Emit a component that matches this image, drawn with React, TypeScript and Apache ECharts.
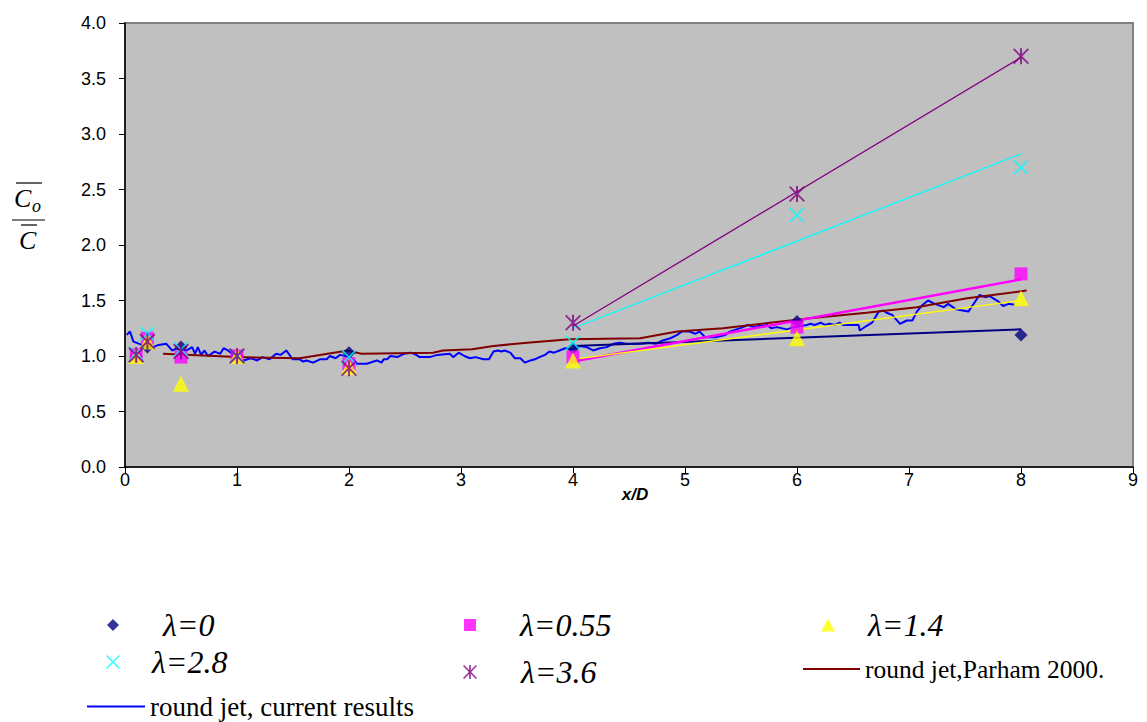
import React, { useEffect, useRef } from "react";
import * as echarts from "echarts";

// ---- data ----
const stationX = [0.1, 0.2, 0.5, 1, 2, 4, 6, 8];
const lambda0 = [1.0, 1.08, 1.08, 1.0, 1.03, 1.07, 1.31, 1.19];
const lambda055 = [1.01, 1.16, 0.99, 1.0, 0.93, 0.99, 1.26, 1.74];
const lambda14 = [1.0, 1.13, 0.75, 1.0, 0.9, 0.96, 1.16, 1.52];
const lambda28 = [1.02, 1.2, 1.06, 1.0, 0.99, 1.12, 2.27, 2.7];
const lambda36 = [1.01, 1.13, 1.04, 1.0, 0.89, 1.3, 2.46, 3.7];

const trendX = [4, 8];
const trend0 = [1.09, 1.24];
const trend055 = [0.95, 1.69];
const trend14 = [0.97, 1.5];
const trend28 = [1.25, 2.82];
const trend36 = [1.27, 3.69];

const parhamX = [0.34, 1.0, 1.56, 1.99, 2.11, 2.75, 2.84, 3.1, 3.29, 3.59, 3.97, 4.6, 4.93, 5.34, 5.76, 6.12, 6.62, 7.07, 7.52, 8.05];
const parhamY = [1.02, 0.99, 0.98, 1.05, 1.02, 1.03, 1.05, 1.06, 1.09, 1.12, 1.15, 1.16, 1.22, 1.25, 1.3, 1.34, 1.39, 1.44, 1.52, 1.59];

const currentX = [
  0.015, 0.045, 0.075, 0.1, 0.15, 0.2, 0.25, 0.3, 0.37, 0.42, 0.47, 0.5, 0.55, 0.6, 0.625, 0.65, 0.68, 0.71, 0.74, 0.8,
  0.85, 0.88, 0.92, 0.97, 1.02, 1.06, 1.12, 1.18, 1.23, 1.29, 1.35, 1.39, 1.44, 1.49, 1.5, 1.56, 1.59, 1.62, 1.68, 1.74,
  1.8, 1.83, 1.88, 1.92, 1.97, 2.02, 2.07, 2.1, 2.16, 2.22, 2.25, 2.29, 2.31, 2.34, 2.37, 2.43, 2.49, 2.55, 2.6, 2.63,
  2.72, 2.79, 2.9, 2.93, 2.98, 3.03, 3.08, 3.13, 3.2, 3.25, 3.29, 3.33, 3.36, 3.39, 3.44, 3.48, 3.53, 3.57, 3.62, 3.66,
  3.7, 3.75, 3.79, 3.83, 3.88, 3.93, 3.98, 4.02, 4.06, 4.12, 4.18, 4.24, 4.3, 4.36, 4.42, 4.48, 4.54, 4.6, 4.67, 4.74,
  4.8, 4.87, 4.93, 4.97, 5.04, 5.09, 5.13, 5.18, 5.28, 5.36, 5.4, 5.46, 5.52, 5.56, 5.61, 5.66, 5.7, 5.73, 5.77, 5.82,
  5.91, 5.97, 6.03, 6.09, 6.12, 6.16, 6.21, 6.25, 6.29, 6.34, 6.38, 6.41, 6.55, 6.56, 6.62, 6.67, 6.73, 6.77, 6.8, 6.85,
  6.92, 6.98, 7.03, 7.07, 7.12, 7.17, 7.23, 7.31, 7.35, 7.42, 7.48, 7.53, 7.57, 7.63, 7.68, 7.72, 7.8, 7.84, 7.89, 7.95,
];
const currentY = [
  1.19, 1.22, 1.13, 1.12, 1.1, 1.09, 1.08, 1.1, 1.11, 1.05, 1.07, 1.06, 1.05, 1.08, 1.02, 1.08, 1.01, 1.05, 1.0, 1.04,
  1.02, 1.07, 1.05, 1.01, 0.99, 0.96, 0.98, 0.96, 0.99, 0.97, 1.02, 1.01, 1.05, 0.98, 0.97, 0.97, 0.95, 0.96, 0.94, 0.97,
  0.97, 1.0, 0.98, 1.01, 1.0, 0.98, 0.93, 0.93, 0.93, 0.95, 0.96, 0.94, 0.97, 0.97, 1.0, 0.99, 1.02, 1.03, 1.01, 0.99,
  0.99, 1.01, 1.02, 0.99, 1.03, 1.0, 0.98, 0.99, 0.97, 0.97, 1.04, 1.05, 1.04, 1.05, 1.03, 0.98, 0.98, 0.94, 0.96, 0.97,
  0.99, 1.01, 1.04, 1.03, 1.05, 1.07, 1.06, 1.07, 1.09, 1.08, 1.05, 1.07, 1.08, 1.11, 1.12, 1.11, 1.11, 1.11, 1.12, 1.11,
  1.14, 1.16, 1.19, 1.22, 1.22, 1.2, 1.22, 1.17, 1.17, 1.19, 1.22, 1.24, 1.26, 1.28, 1.26, 1.27, 1.27, 1.28, 1.25, 1.26,
  1.24, 1.26, 1.27, 1.28, 1.29, 1.28, 1.3, 1.28, 1.29, 1.28, 1.3, 1.28, 1.28, 1.23, 1.27, 1.3, 1.4, 1.41, 1.39, 1.37,
  1.29, 1.32, 1.32, 1.4, 1.46, 1.5, 1.47, 1.44, 1.47, 1.42, 1.41, 1.4, 1.46, 1.55, 1.53, 1.54, 1.49, 1.45, 1.47, 1.46,
];

const yTicks = [0, 0.5, 1, 1.5, 2, 2.5, 3, 3.5, 4];
const xTicks = [0, 1, 2, 3, 4, 5, 6, 7, 8, 9];

const names = {
  l0: "λ=0",
  l055: "λ=0.55",
  l14: "λ=1.4",
  l28: "λ=2.8",
  l36: "λ=3.6",
  parham: "round jet,Parham 2000.",
  current: "round jet, current results",
};

const X_PATH =
  "path://M0,1.6L1.6,0L10,8.4L18.4,0L20,1.6L11.6,10L20,18.4L18.4,20L10,11.6L1.6,20L0,18.4L8.4,10Z";
const AST_PATH =
  "path://M0,1.6L1.6,0L10,8.4L18.4,0L20,1.6L11.6,10L20,18.4L18.4,20L10,11.6L1.6,20L0,18.4L8.4,10Z M8.8,0L11.2,0L11.2,20L8.8,20Z";

const zip = (xs: number[], ys: number[]) => xs.map((x, i) => [x, ys[i]]);

export default function App() {
  const ref = useRef<HTMLDivElement>(null);
  useEffect(() => {
    if (!ref.current) return;
    const chart = echarts.init(ref.current, undefined, { renderer: "svg" });
    const lamText = {
      fontFamily: "'Liberation Serif', 'DejaVu Serif', serif",
      fontStyle: "italic" as const,
      fontSize: 32,
      color: "#000",
    };
    const serif = (size: number) => ({
      fontFamily: "'Liberation Serif', serif",
      fontSize: size,
      color: "#000",
    });
    const mkLegend = (name: string, left: number, top: number, iw: number, ih: number, pad: number, ts: any, icon?: string) => ({
      show: true,
      data: [icon ? { name, icon } : { name }],
      left,
      top,
      padding: 0,
      itemWidth: iw,
      itemHeight: ih,
      selectedMode: false,
      textStyle: { ...ts, padding: [0, 0, 0, pad] },
    });
    const scatter = (name: string, ys: number[], symbol: string, size: number, color: string) => ({
      type: "scatter",
      name,
      data: zip(stationX, ys),
      symbol,
      symbolSize: size,
      itemStyle: { color },
      z: 5,
    });
    const trend = (ys: number[], color: string, width: number) => ({
      type: "line",
      data: zip(trendX, ys),
      showSymbol: false,
      symbol: "none",
      lineStyle: { color, width },
      z: 3,
      silent: true,
    });
    chart.setOption({
      animation: false,
      backgroundColor: "#fff",
      grid: {
        left: 125,
        top: 23,
        width: 1008,
        height: 444,
        show: true,
        backgroundColor: "#C0C0C0",
        borderColor: "#808080",
        borderWidth: 2,
      },
      xAxis: {
        type: "value",
        min: 0,
        max: 9,
        interval: 1,
        name: "x/D",
        nameLocation: "middle",
        nameGap: 19,
        nameMoveOverlap: false,
        nameTextStyle: {
          fontFamily: "Liberation Sans",
          fontWeight: "bold",
          fontStyle: "italic",
          fontSize: 17,
          color: "#000",
          padding: [0, 0, 0, 12],
        },
        axisLine: { show: true, onZero: false, lineStyle: { color: "#000", width: 1.5 } },
        axisTick: { show: true, inside: false, length: 6, lineStyle: { color: "#000" } },
        axisLabel: {
          fontFamily: "Liberation Sans",
          fontSize: 18,
          color: "#000",
          margin: 4,
          formatter: (v: number) => (xTicks.includes(v) ? String(v) : ""),
        },
        splitLine: { show: false },
      },
      yAxis: {
        type: "value",
        min: 0,
        max: 4,
        interval: 0.5,
        axisLine: { show: true, onZero: false, lineStyle: { color: "#000", width: 1.5 } },
        axisTick: { show: true, inside: false, length: 6, lineStyle: { color: "#000" } },
        axisLabel: {
          fontFamily: "Liberation Sans",
          fontSize: 18,
          color: "#000",
          margin: 19,
          formatter: (v: number) => (yTicks.includes(v) ? v.toFixed(1) : ""),
        },
        splitLine: { show: false },
      },
      legend: [
        mkLegend(names.l0, 107, 609, 12, 12, 39, lamText),
        mkLegend(names.l055, 464, 609, 12, 12, 39, lamText),
        mkLegend(names.l14, 821, 609, 14, 13, 28, lamText),
        mkLegend(names.l28, 106, 646, 14, 14, 27, lamText),
        mkLegend(names.l36, 463, 656, 14, 14, 39, lamText),
        mkLegend(names.parham, 803, 656, 57, 2, 0, serif(25.5), "rect"),
        mkLegend(names.current, 87, 693, 58, 2, 0, serif(27), "rect"),
      ],
      graphic: [
        { type: "line", shape: { x1: 16, y1: 183, x2: 42, y2: 183 }, style: { stroke: "#000", lineWidth: 1.2 } },
        { type: "text", left: 14, top: 185, style: { text: "C", font: "italic 26px 'Liberation Serif'", fill: "#000" } },
        { type: "text", left: 32, top: 197, style: { text: "o", font: "italic 18px 'Liberation Serif'", fill: "#000" } },
        { type: "line", shape: { x1: 12, y1: 220, x2: 45, y2: 220 }, style: { stroke: "#000", lineWidth: 1.2 } },
        { type: "line", shape: { x1: 21, y1: 225, x2: 37, y2: 225 }, style: { stroke: "#000", lineWidth: 1.2 } },
        { type: "text", left: 19, top: 227, style: { text: "C", font: "italic 26px 'Liberation Serif'", fill: "#000" } },
      ],
      series: [
        {
          type: "line",
          name: names.current,
          data: zip(currentX, currentY),
          showSymbol: false,
          symbol: "none",
          lineStyle: { color: "#0000FF", width: 2 },
          itemStyle: { color: "#0000FF" },
          z: 2,
        },
        {
          type: "line",
          name: names.parham,
          data: zip(parhamX, parhamY),
          showSymbol: false,
          symbol: "none",
          lineStyle: { color: "#800000", width: 2 },
          itemStyle: { color: "#800000" },
          z: 2,
        },
        trend(trend0, "#000080", 2),
        trend(trend055, "#FF00FF", 2.5),
        trend(trend14, "#FFFF00", 1.3),
        trend(trend28, "#00FFFF", 1.3),
        trend(trend36, "#800080", 1.3),
        scatter(names.l0, lambda0, "diamond", 13, "#000080"),
        scatter(names.l055, lambda055, "rect", 13, "#FF00FF"),
        scatter(names.l14, lambda14, "triangle", 16, "#FFFF00"),
        scatter(names.l28, lambda28, X_PATH, 15, "#00FFFF"),
        scatter(names.l36, lambda36, AST_PATH, 16, "#800080"),
      ],
    });
    return () => chart.dispose();
  }, []);
  return (
    <div
      ref={ref}
      style={{ position: "fixed", left: 0, top: 0, width: 1147, height: 722, background: "#fff" }}
    />
  );
}
